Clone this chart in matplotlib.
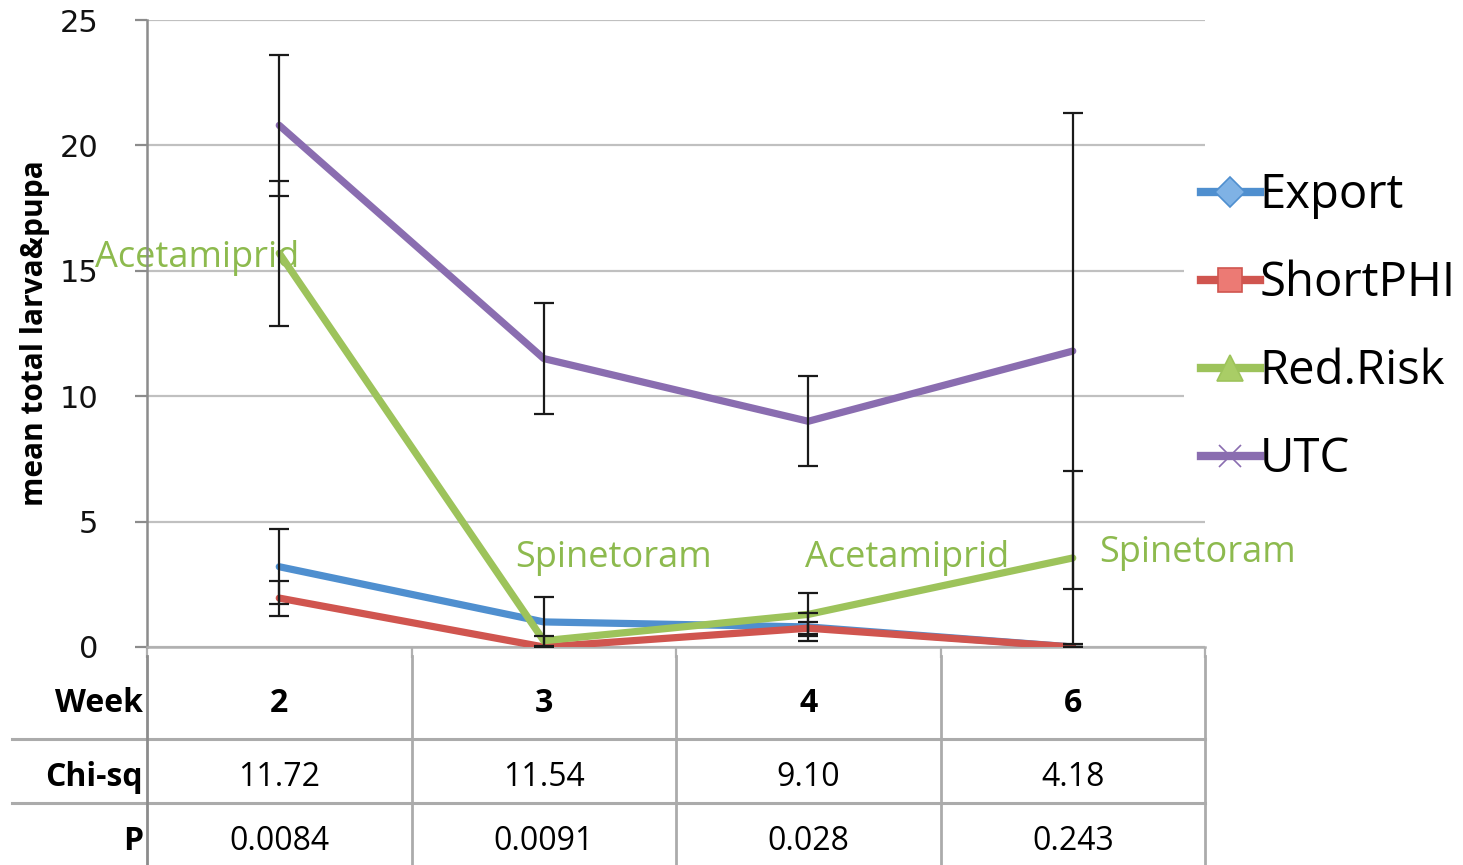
import matplotlib
matplotlib.use("Agg")
import matplotlib.pyplot as plt
from matplotlib.lines import Line2D
from matplotlib.transforms import blended_transform_factory
from matplotlib import font_manager

# ---- data -------------------------------------------------------------
weeks = ["2", "3", "4", "6"]
series_names = ["Export", "ShortPHI", "Red.Risk", "UTC"]

export = [3.2, 1.0, 0.8, 0.0]
export_err = [1.5, 1.0, 0.55, 0.0]
short_phi = [1.95, 0.0, 0.75, 0.0]
short_phi_err = [0.7, 0.0, 0.25, 0.0]
red_risk = [15.7, 0.25, 1.3, 3.55]
red_risk_err = [2.9, 0.2, 0.85, 3.45]
utc = [20.8, 11.5, 9.0, 11.8]
utc_err = [2.8, 2.2, 1.8, 9.5]

spray_labels = ["Acetamiprid", "Spinetoram", "Acetamiprid", "Spinetoram"]

chi_sq = ["11.72", "11.54", "9.10", "4.18"]
p_values = ["0.0084", "0.0091", "0.028", "0.243"]

# ---- styling ----------------------------------------------------------
line_colors = ["#4F8FCF", "#D0554F", "#9DC35B", "#8A6DB0"]
face_colors = ["#7FB2E5", "#EC7A74", "#A9CD66", "#8A6DB0"]
markers = ["D", "s", "^", "x"]
marker_sizes = [15, 17, 19, 16]

installed = {f.name for f in font_manager.fontManager.ttflist}
ui_font = "Open Sans" if "Open Sans" in installed else "DejaVu Sans"
narrow_font = "Liberation Sans Narrow" if "Liberation Sans Narrow" in installed else ui_font

W, H = 1463, 865
fig = plt.figure(figsize=(W / 100, H / 100), dpi=100)
ax = fig.add_axes([147 / W, 1 - 647 / H, (1205 - 147) / W, (647 - 20) / H])

x = list(range(len(weeks)))
all_series = [(export, export_err), (short_phi, short_phi_err),
              (red_risk, red_risk_err), (utc, utc_err)]

for (vals, errs), col in zip(all_series, line_colors):
    ax.plot(x, vals, color=col, lw=5.2, solid_capstyle="round",
            solid_joinstyle="round", zorder=3)
for vals, errs in all_series:
    ax.errorbar(x, vals, yerr=errs, fmt="none", ecolor="#1a1a1a",
                elinewidth=1.6, capsize=7, capthick=1.6, zorder=4)

# spray annotations on the Red.Risk line (offsets in pixels)
label_offsets = [(-82, -5), (70, 83), (99, 56), (125, 5)]
for i, (txt, off) in enumerate(zip(spray_labels, label_offsets)):
    ax.annotate(txt, xy=(i, red_risk[i]), xytext=off, textcoords="offset pixels",
                ha="center", va="center", color="#8DBA4E", fontsize=26,
                family=ui_font, zorder=2)

ax.set_xlim(-0.5, len(weeks) - 0.5)
ax.set_ylim(0, 25)
ax.set_yticks([0, 5, 10, 15, 20, 25])
ax.set_xticks([i - 0.5 for i in range(len(weeks) + 1)])
ax.set_xticklabels([])
ax.yaxis.grid(True, color="#C0C0C0", lw=1.6)
ax.set_axisbelow(True)
for s in ["top", "right"]:
    ax.spines[s].set_visible(False)
ax.spines["left"].set_color("#8C8C8C")
ax.spines["left"].set_linewidth(1.8)
ax.spines["bottom"].set_color("#B0B0B0")
ax.spines["bottom"].set_linewidth(1.8)
ax.tick_params(axis="y", length=9, width=1.6, color="#8C8C8C", pad=26,
               labelsize=22, labelcolor="#111111")
ax.tick_params(axis="x", length=8, width=1.6, color="#B0B0B0")
for lab in ax.get_yticklabels():
    lab.set_family("DejaVu Sans")

ax.set_ylabel("mean total larva&pupa", fontsize=21.5, fontweight="bold",
              family=narrow_font)
ax.yaxis.set_label_coords(-(147 - 50) / (1205 - 147), (647 - 333) / 627)

# legend
handles = [Line2D([0], [0], color=c, lw=6, marker=m, markersize=ms,
                  markerfacecolor=fc, markeredgecolor=c, markeredgewidth=1.2)
           for c, fc, m, ms in zip(line_colors, face_colors, markers, marker_sizes)]
leg = ax.legend(handles, series_names, loc="upper left",
                bbox_to_anchor=(1184 / W, 1 - 155 / H), bbox_transform=fig.transFigure,
                frameon=True, facecolor="white", edgecolor="none", framealpha=1,
                prop={"family": ui_font, "size": 34}, handlelength=1.25,
                handletextpad=0.0, labelspacing=0.86, borderpad=0.35,
                borderaxespad=0)
leg.set_zorder(10)

# ---- statistics table under the axis ------------------------------------
ov = fig.add_axes([0, 0, 1, 1])
ov.set_xlim(0, W)
ov.set_ylim(H, 0)
ov.axis("off")
bt = blended_transform_factory(ax.transData, ov.transData)

fig.canvas.draw()
right_px = ax.transData.transform((len(weeks) - 0.5, 0))[0]

grid_gray = "#ABABAB"
for y in (739, 803):
    ov.plot([12, right_px], [y, y], color=grid_gray, lw=2.2)
for b in range(len(weeks) + 1):
    col = "#8C8C8C" if b == 0 else grid_gray
    ov.plot([b - 0.5, b - 0.5], [656, H], color=col, lw=2.0, transform=bt)

row_y = [703, 777, 841]
row_labels = ["Week", "Chi-sq", "P"]
for y, lab in zip(row_y, row_labels):
    ov.text(143, y, lab, ha="right", va="center", fontsize=23,
            fontweight="bold", family=ui_font)
for i in x:
    ov.text(i, row_y[0], weeks[i], ha="center", va="center", fontsize=23,
            fontweight="bold", family=ui_font, transform=bt)
    ov.text(i, row_y[1], chi_sq[i], ha="center", va="center", fontsize=23,
            family=ui_font, transform=bt)
    ov.text(i, row_y[2], p_values[i], ha="center", va="center", fontsize=23,
            family=ui_font, transform=bt)

fig.savefig("out.png", dpi=100, facecolor="white")
